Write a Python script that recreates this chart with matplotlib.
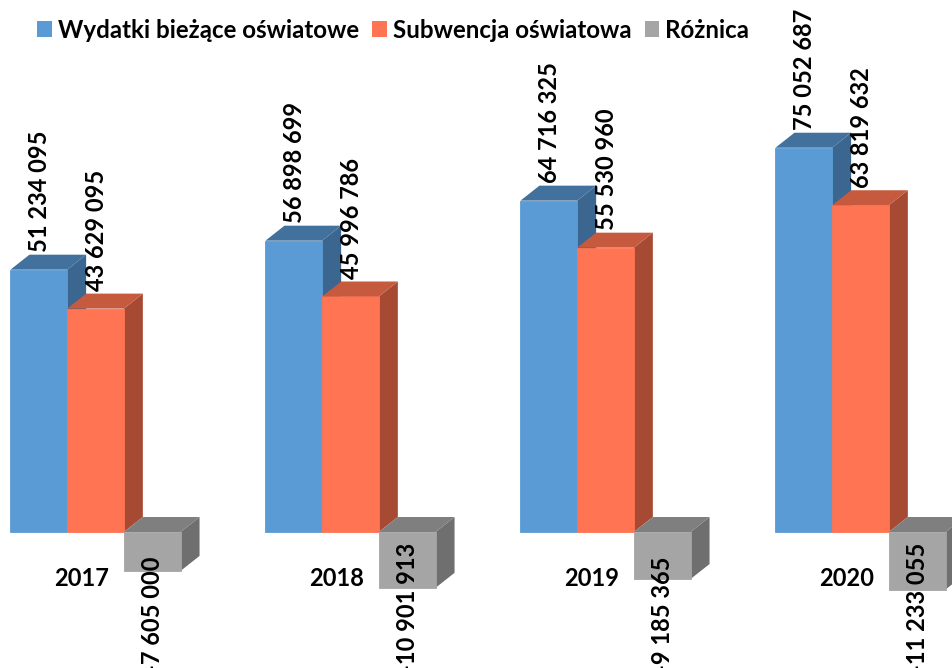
import matplotlib
matplotlib.use("Agg")
import matplotlib.pyplot as plt
from matplotlib.patches import Polygon, Rectangle

# data (values in PLN)
years = ["2017", "2018", "2019", "2020"]
wydatki = [51234095, 56898699, 64716325, 75052687]
subwencja = [43629095, 45996786, 55530960, 63819632]
roznica = [-7605000, -10901913, -9185365, -11233055]

series_names = ["Wydatki bieżące oświatowe", "Subwencja oświatowa", "Różnica"]
# (front, top, side)
colors = [
    ("#5B9BD5", "#41719C", "#3A6690"),
    ("#FF7452", "#C55A3E", "#A64A34"),
    ("#A5A5A5", "#7F7F7F", "#6F6F6F"),
]

plt.rcParams["font.family"] = ["Lato", "DejaVu Sans"]

W, H = 953, 668
fig = plt.figure(figsize=(W / 100, H / 100), dpi=100)
ax = fig.add_axes([0, 0, 1, 1])
ax.set_axis_off()

# pixel layout of the reference
px_group = 255.0      # distance between groups
px_scale = 5.12       # pixels per million
baseline_px = 532
first_center_px = 95.5
bar_w = 56.7 / px_group
dx = 19 / px_group
dy = 15 / px_scale
fs = 17

ax.set_xlim(-first_center_px / px_group, (W - first_center_px) / px_group)
ax.set_ylim(-(H - baseline_px) / px_scale, baseline_px / px_scale)

all_series = [wydatki, subwencja, roznica]
for i, year in enumerate(years):
    for j, vals in enumerate(all_series):
        v = vals[i] / 1e6
        cx = i + (j - 1) * bar_w
        x0, x1 = cx - bar_w / 2, cx + bar_w / 2
        top, bot = max(v, 0), min(v, 0)
        front, topc, side = colors[j]
        ax.add_patch(Polygon([(x1, bot), (x1 + dx, bot + dy), (x1 + dx, top + dy), (x1, top)],
                             closed=True, facecolor=side, edgecolor="none"))
        ax.add_patch(Rectangle((x0, bot), bar_w, top - bot, facecolor=front,
                               edgecolor=front, linewidth=0.6))
        ax.add_patch(Polygon([(x0, top), (x0 + dx, top + dy), (x1 + dx, top + dy), (x1, top)],
                             closed=True, facecolor=topc, edgecolor="none"))
        label = f"{vals[i]:,}".replace(",", " ")
        if v >= 0:
            ax.text(cx + 0.004, top + dy + 0.5, label, rotation=90, ha="center", va="bottom",
                    fontsize=fs, fontweight="bold", color="black")
        else:
            # as in the reference, these labels run off the bottom edge
            ax.text(cx, -141 / px_scale, label, rotation=90, ha="center", va="bottom",
                    fontsize=fs, fontweight="bold", color="black")
    ax.text(i - 0.055, -46 / px_scale, year, ha="center", va="center",
            fontsize=fs, fontweight="bold", color="black")

handles = [Rectangle((0, 0), 1, 1, facecolor=c[0]) for c in colors]
fig.legend(handles, series_names, loc="center left", bbox_to_anchor=(0.039, 0.955),
           ncol=3, frameon=False, handlelength=0.6, handleheight=0.6,
           handletextpad=0.25, columnspacing=0.55, borderpad=0, borderaxespad=0,
           prop={"size": 17.4, "weight": "bold"})

fig.savefig("out.png", dpi=100)
